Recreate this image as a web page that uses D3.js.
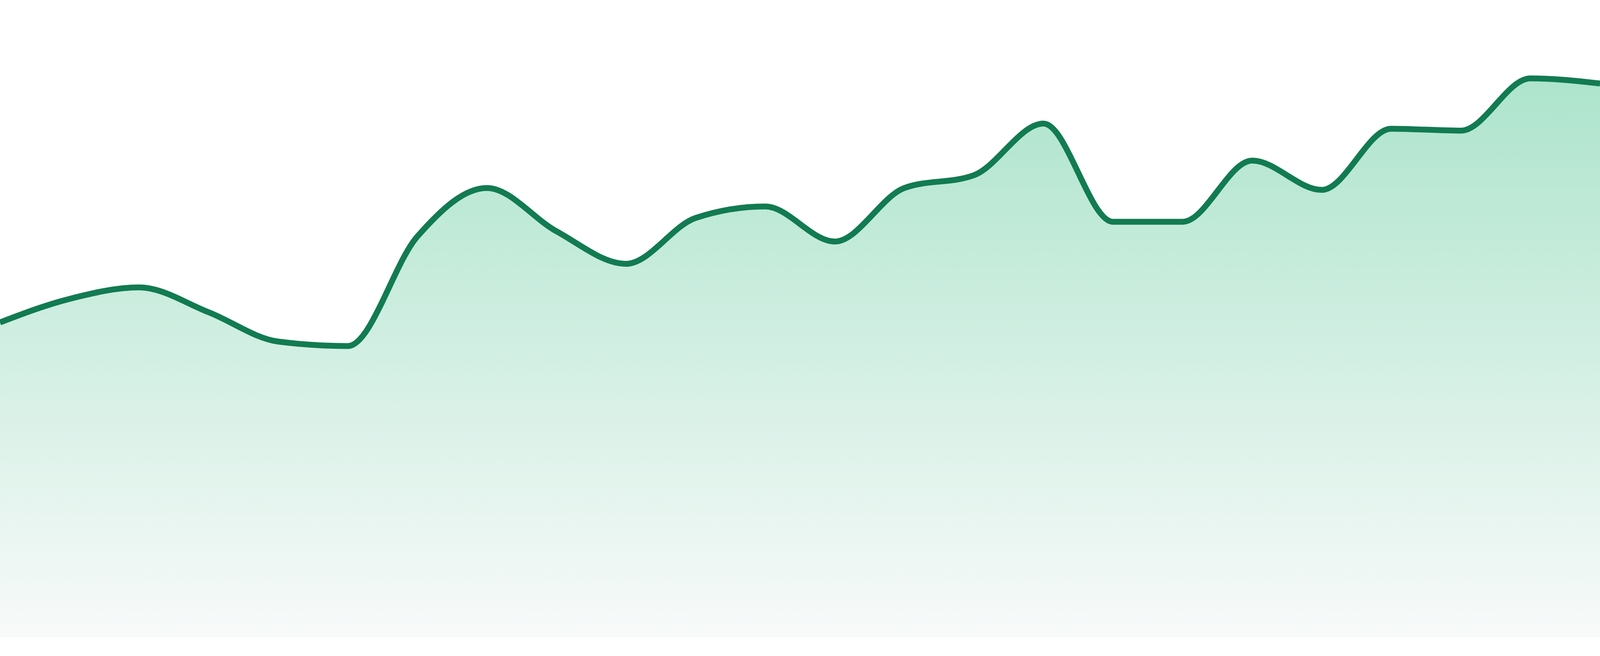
<!DOCTYPE html>
<html>
<head>
<meta charset="utf-8">
<script src="https://cdn.jsdelivr.net/npm/d3@7"></script>
<style>
  html, body { margin: 0; padding: 0; background: #fff; overflow: hidden; }
  svg { display: block; }
</style>
</head>
<body>
<svg id="chart"></svg>
<script>
// hourly readings, 24 points
const hours = ["00:00","01:00","02:00","03:00","04:00","05:00","06:00","07:00",
  "08:00","09:00","10:00","11:00","12:00","13:00","14:00","15:00",
  "16:00","17:00","18:00","19:00","20:00","21:00","22:00","23:00"];
const values = [49.4, 53.1, 54.9, 51.0, 46.4, 45.7, 62.9, 70.5,
  63.7, 58.6, 65.8, 67.6, 62.1, 70.5, 72.5, 80.6,
  65.2, 65.2, 74.8, 70.2, 79.8, 79.5, 87.7, 86.9];
const yDomain = [0, 100];

// size from the window so the whole chart is always in view
const width = window.innerWidth || 4800;
const height = window.innerHeight || 1680;
const k = height / 1680;
const bottom = height * (1632 / 1680);

const svg = d3.select('#chart')
  .attr('width', width)
  .attr('height', height);

const x = d3.scalePoint().domain(hours).range([0, width]);
const y = d3.scaleLinear().domain(yDomain).range([bottom, 0]);

const data = hours.map((h, i) => ({ h, v: values[i] }));

const grad = svg.append('defs').append('linearGradient')
  .attr('id', 'fillGrad')
  .attr('x1', 0).attr('y1', 0).attr('x2', 0).attr('y2', 1);
grad.append('stop').attr('offset', '0%').attr('stop-color', '#ade4cc');
grad.append('stop').attr('offset', '100%').attr('stop-color', '#f8fafa');

const area = d3.area()
  .x(d => x(d.h))
  .y0(bottom)
  .y1(d => y(d.v))
  .curve(d3.curveMonotoneX);

const line = d3.line()
  .x(d => x(d.h))
  .y(d => y(d.v))
  .curve(d3.curveMonotoneX);

svg.append('path')
  .datum(data)
  .attr('d', area)
  .attr('fill', 'url(#fillGrad)');

svg.append('path')
  .datum(data)
  .attr('d', line)
  .attr('fill', 'none')
  .attr('stroke', '#127b51')
  .attr('stroke-width', 15 * k)
  .attr('stroke-linejoin', 'round');
</script>
</body>
</html>
